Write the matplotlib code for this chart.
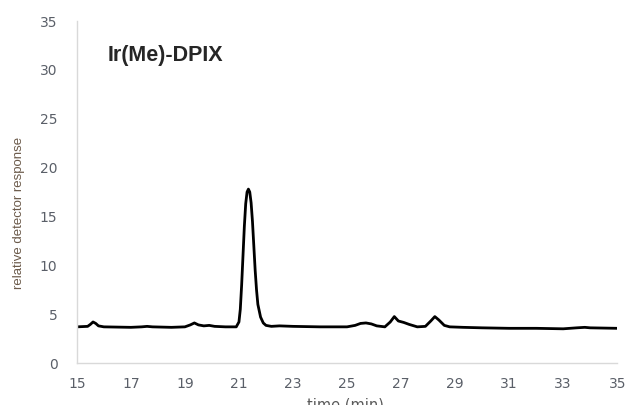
import matplotlib
matplotlib.use('Agg')
import matplotlib.pyplot as plt

# Chromatogram values (time in min, relative response)
time_min = [15.0, 15.4, 15.5, 15.6, 15.7, 15.8, 16.0, 17.0, 17.4, 17.6, 17.8,
            18.5, 19.0, 19.2, 19.35, 19.5, 19.7, 19.9, 20.1, 20.5, 20.9,
            21.0, 21.05, 21.1, 21.15, 21.2, 21.25, 21.3, 21.35, 21.4, 21.45,
            21.5, 21.55, 21.6, 21.65, 21.7, 21.8, 21.9, 22.0, 22.2, 22.5,
            23.0, 24.0, 24.5, 25.0, 25.3, 25.5, 25.7, 25.9, 26.1, 26.4,
            26.6, 26.75, 26.9, 27.1, 27.3, 27.6, 27.9, 28.1, 28.25, 28.4,
            28.6, 28.8, 29.3, 30.0, 31.0, 32.0, 33.0, 33.5, 33.8, 34.0, 35.0]
response = [3.7, 3.75, 3.95, 4.2, 4.05, 3.8, 3.7, 3.65, 3.7, 3.75, 3.7,
            3.65, 3.7, 3.9, 4.1, 3.9, 3.8, 3.85, 3.75, 3.7, 3.7,
            4.2, 5.5, 8.0, 11.0, 14.0, 16.3, 17.5, 17.8, 17.5, 16.4,
            14.5, 12.0, 9.5, 7.5, 6.0, 4.7, 4.1, 3.85, 3.75, 3.8,
            3.75, 3.7, 3.7, 3.7, 3.85, 4.05, 4.1, 4.0, 3.8, 3.7,
            4.2, 4.75, 4.3, 4.15, 3.95, 3.7, 3.75, 4.3, 4.75, 4.4,
            3.85, 3.7, 3.65, 3.6, 3.55, 3.55, 3.5, 3.6, 3.65, 3.6, 3.55]

x_ticks = [15, 17, 19, 21, 23, 25, 27, 29, 31, 33, 35]
y_ticks = [0, 5, 10, 15, 20, 25, 30, 35]

plt.rcParams['font.family'] = ['DejaVu Sans']

fig = plt.figure(figsize=(6.35, 4.05), dpi=100)
ax = fig.add_axes([0.121, 0.1037, 0.851, 0.8443])

ax.plot(time_min, response, color='black', linewidth=2.0,
        solid_joinstyle='round', solid_capstyle='round')

ax.set_xlim(15, 35)
ax.set_ylim(0, 35)
ax.set_xticks(x_ticks)
ax.set_yticks(y_ticks)
ax.tick_params(axis='both', length=0, labelsize=10, labelcolor='#5a5f68')
ax.tick_params(axis='x', pad=10)
ax.tick_params(axis='y', pad=14)

for side in ['top', 'right']:
    ax.spines[side].set_visible(False)
for side in ['left', 'bottom']:
    ax.spines[side].set_color('#d9d9d9')
    ax.spines[side].set_linewidth(1.0)

ax.text(0.057, 0.90, 'Ir(Me)-DPIX', transform=ax.transAxes,
        fontsize=15.5, fontweight='bold', color='#262626', va='center',
        family=['Liberation Sans', 'DejaVu Sans'])

fig.text(0.030, 0.474, 'relative detector response', rotation=90,
         ha='center', va='center', fontsize=9.5, color='#6b5a4a',
         family=['Liberation Sans', 'DejaVu Sans'])
fig.text(0.544, -0.012, 'time (min)', ha='center', va='baseline',
         fontsize=10.5, color='#595959')

fig.savefig('out.png', dpi=100)
